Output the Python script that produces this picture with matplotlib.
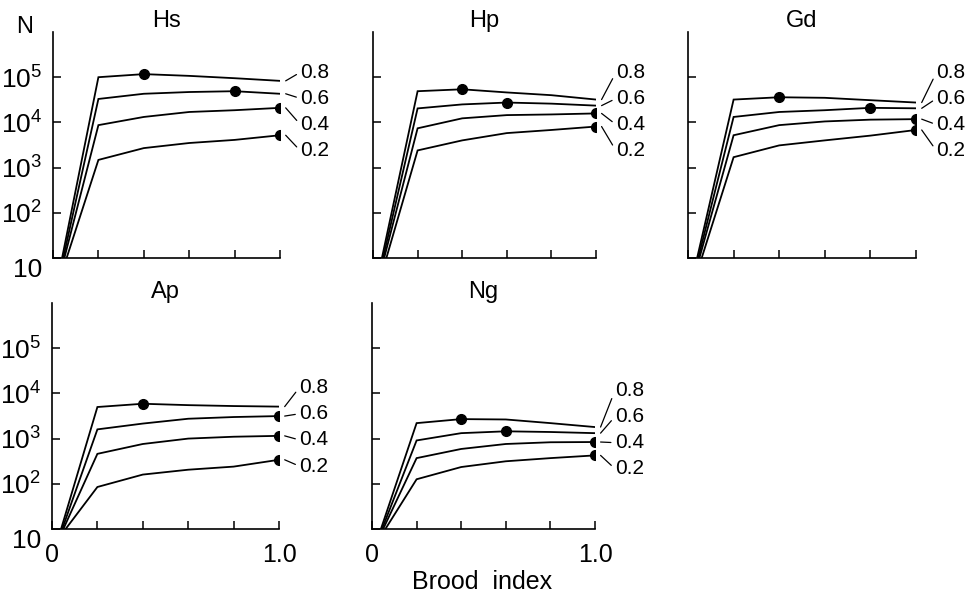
"""
Population size N against brood index for five species,
one panel per species, one curve per survival value.
"""

import matplotlib
import matplotlib.pyplot as plt
import numpy as np

matplotlib.use("Agg")
plt.rcParams["font.family"] = ["Liberation Sans", "DejaVu Sans"]

brood_index = [0.2, 0.4, 0.6, 0.8, 1.0]
survival = ["0.2", "0.4", "0.6", "0.8"]

# where each curve leaves N = 10 (order follows survival)
start_x = [0.06, 0.05, 0.045, 0.04]

hs_values = [
    [1.48e3, 2.7e3, 3.5e3, 4.1e3, 5.2e3],
    [8.7e3, 1.32e4, 1.7e4, 1.86e4, 2.1e4],
    [3.3e4, 4.3e4, 4.7e4, 4.9e4, 4.3e4],
    [1.0e5, 1.17e5, 1.07e5, 9.5e4, 8.3e4],
]
hp_values = [
    [2.4e3, 4.0e3, 5.8e3, 6.8e3, 8.1e3],
    [7.4e3, 1.23e4, 1.45e4, 1.5e4, 1.58e4],
    [2.04e4, 2.5e4, 2.75e4, 2.6e4, 2.35e4],
    [4.9e4, 5.4e4, 4.6e4, 4.0e4, 3.2e4],
]
gd_values = [
    [1.7e3, 3.1e3, 4.0e3, 5.1e3, 6.8e3],
    [5.2e3, 8.7e3, 1.05e4, 1.15e4, 1.18e4],
    [1.32e4, 1.7e4, 1.86e4, 2.1e4, 2.05e4],
    [3.2e4, 3.6e4, 3.5e4, 3.1e4, 2.75e4],
]
ap_values = [
    [85, 160, 205, 240, 340],
    [460, 760, 1000, 1100, 1150],
    [1.6e3, 2.15e3, 2.75e3, 3.0e3, 3.15e3],
    [5.0e3, 5.9e3, 5.5e3, 5.25e3, 5.1e3],
]
ng_values = [
    [126, 235, 315, 370, 425],
    [370, 590, 760, 830, 840],
    [910, 1320, 1450, 1400, 1320],
    [2.2e3, 2.7e3, 2.65e3, 2.2e3, 1.8e3],
]

panels = [
    ("Hs", hs_values),
    ("Hp", hp_values),
    ("Gd", gd_values),
    ("Ap", ap_values),
    ("Ng", ng_values),
]

# layout: axes rectangles in pixels (left, bottom, width) and label stack top (log10 N)
W, H = 969, 597
boxes = {
    "Hs": (53, 258, 227, 5.11),
    "Hp": (373, 258, 223, 5.11),
    "Gd": (688, 258, 228, 5.11),
    "Ap": (52, 529, 227, 4.13),
    "Ng": (372, 529, 223, 4.07),
}
AX_H = 226


def draw_panel(fig, name, values):
    left, bottom, width, label_top = boxes[name]
    ax = fig.add_axes([left / W, 1 - bottom / H, width / W, AX_H / H])
    ax.set_yscale("log")
    ax.set_xlim(0, 1.0)
    ax.set_ylim(10, 1e6)

    for i, (lab, vals) in enumerate(zip(survival, values)):
        xs = [start_x[i]] + brood_index
        ys = [10] + vals
        ax.plot(xs, ys, color="black", lw=1.3, solid_joinstyle="miter")
        k = int(np.argmax(vals))
        ax.plot(brood_index[k], vals[k], "o", color="black", ms=7)

        label_y = 10 ** (label_top - 0.58 * (3 - i))
        ax.annotate(lab, xy=(1.025, vals[-1]), xytext=(1.09, label_y),
                    textcoords="data", ha="left", va="center", fontsize=15,
                    annotation_clip=False,
                    arrowprops=dict(arrowstyle="-", lw=0.9, color="black",
                                    shrinkA=1, shrinkB=0, relpos=(0, 0.5)))

    ax.set_title(name, fontsize=17, pad=0)
    for side in ("top", "right"):
        ax.spines[side].set_visible(False)
    for side in ("left", "bottom"):
        ax.spines[side].set_linewidth(1.2)

    ax.set_yticks([10, 1e2, 1e3, 1e4, 1e5])
    ax.yaxis.set_minor_locator(matplotlib.ticker.NullLocator())
    ax.set_xticks([0, 0.2, 0.4, 0.6, 0.8, 1.0])
    ax.tick_params(direction="in", length=6, width=1.1)
    ax.tick_params(axis="y", labelsize=19, pad=8)
    ax.tick_params(axis="x", labelsize=18, pad=10)

    if name in ("Hs", "Ap"):
        ax.set_yticklabels(["10"] + [r"$\mathregular{10^%d}$" % e for e in range(2, 6)])
        # the bottom "10" sits just under the x axis in the original
        ax.get_yticklabels()[0].set_va("top")
    else:
        ax.set_yticklabels([])
    if name in ("Ap", "Ng"):
        ax.set_xticklabels(["0", "", "", "", "", "1.0"])
    else:
        ax.set_xticklabels([])
    return ax


def execute():
    fig = plt.figure(figsize=(W / 100, H / 100), dpi=100)
    for name, values in panels:
        draw_panel(fig, name, values)
    fig.text(25 / W, 1 - 27 / H, "N", fontsize=17, ha="center", va="center")
    fig.text(482 / W, 1 - 582 / H, "Brood  index", fontsize=18,
             ha="center", va="center")
    fig.savefig("out.png", dpi=100)


if __name__ == "__main__":
    execute()
